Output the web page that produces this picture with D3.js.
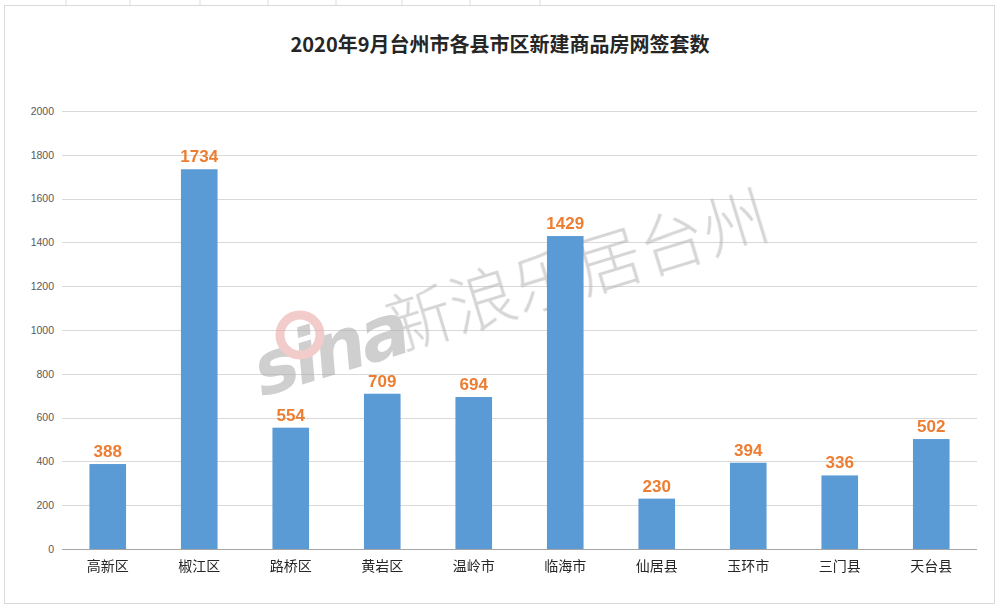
<!DOCTYPE html>
<html><head><meta charset="utf-8">
<script src="https://cdn.jsdelivr.net/npm/d3@7/dist/d3.min.js"></script>
<style>body{margin:0;background:#fff;}svg{display:block;}</style>
</head><body>
<svg id="c" width="1000" height="607"></svg>
<script>
const categories = ["高新区","椒江区","路桥区","黄岩区","温岭市","临海市","仙居县","玉环市","三门县","天台县"];
const values = [388,1734,554,709,694,1429,230,394,336,502];
const yTicks = [0,200,400,600,800,1000,1200,1400,1600,1800,2000];
const title = "2020年9月台州市各县市区新建商品房网签套数";

const svg = d3.select("#c");
const W = 1000, H = 607;
const m = {left:62, right:977, top:111, bottom:549};

const bg = svg.append("g");
bg.append("rect").attr("x",0).attr("y",0).attr("width",W).attr("height",H).attr("fill","#fff");
[66,130,200,268,336,402,470,540].forEach(x=>bg.append("line").attr("x1",x).attr("x2",x).attr("y1",0).attr("y2",6).attr("stroke","#ddd"));
bg.append("rect").attr("x",4.5).attr("y",5.5).attr("width",990).attr("height",598).attr("fill","#fff").attr("stroke","#d9d9d9");

const x = d3.scaleBand().domain(categories).range([m.left,m.right]).paddingInner(0.6).paddingOuter(0.3);
const y = d3.scaleLinear().domain([0,2000]).range([m.bottom,m.top]);

svg.append("g").selectAll("line").data(yTicks.filter(d=>d>0)).join("line")
  .attr("x1",m.left).attr("x2",m.right).attr("y1",d=>Math.round(y(d))+0.5).attr("y2",d=>Math.round(y(d))+0.5)
  .attr("stroke","#d9d9d9").attr("stroke-width",1);

const ya = d3.axisLeft(y).tickValues(yTicks).tickFormat(d3.format("d")).tickSize(0).tickPadding(8);
const yg = svg.append("g").attr("transform",`translate(${m.left},0)`).call(ya);
yg.select(".domain").remove();
yg.selectAll("text").attr("font-family","Liberation Sans, Arial, sans-serif").attr("font-size",10.5).attr("fill","#595959");

const wm = svg.append("g").attr("opacity",0.55);
wm.append("text").attr("transform","translate(395,352) rotate(-17)")
  .attr("font-family","Noto Sans CJK SC, sans-serif").attr("font-weight",300).attr("font-size",66)
  .attr("fill","#b5b5b5").text("新浪乐居台州");
wm.append("text").attr("transform","translate(258,398) rotate(-17) skewX(-12)")
  .attr("font-family","DejaVu Sans, sans-serif").attr("font-weight",700).attr("font-size",74)
  .attr("fill","#a8a8a8").attr("letter-spacing",-4).text("sina");
wm.append("circle").attr("cx",300).attr("cy",335).attr("r",20).attr("fill","none").attr("stroke","#e8a0a0").attr("stroke-width",9);

svg.append("g").selectAll("rect").data(values).join("rect")
  .attr("x",(d,i)=>x(categories[i])).attr("width",x.bandwidth())
  .attr("y",d=>y(d)).attr("height",d=>y(0)-y(d)).attr("fill","#5b9bd5");

svg.append("g").selectAll("text").data(values).join("text")
  .attr("x",(d,i)=>x(categories[i])+x.bandwidth()/2).attr("y",d=>y(d)-7)
  .attr("text-anchor","middle").attr("font-family","Liberation Sans Narrow, Liberation Sans, Arial, sans-serif")
  .attr("font-weight",700).attr("font-size",17).attr("fill","#ed7d31").text(d=>d);

const xa = d3.axisBottom(x).tickSize(0).tickPadding(12);
const xg = svg.append("g").attr("transform",`translate(0,${m.bottom})`).call(xa);
xg.select(".domain").attr("stroke","#a6a6a6").attr("d",`M${m.left},0.5H${m.right}`);
xg.selectAll("text").attr("font-family","Noto Sans CJK SC, sans-serif").attr("font-size",14).attr("fill","#262626");

svg.append("text").attr("x",500).attr("y",52).attr("text-anchor","middle")
  .attr("font-family","Noto Sans CJK SC, sans-serif").attr("font-weight",700).attr("font-size",20)
  .attr("fill","#262626").text(title);
</script>
</body></html>
